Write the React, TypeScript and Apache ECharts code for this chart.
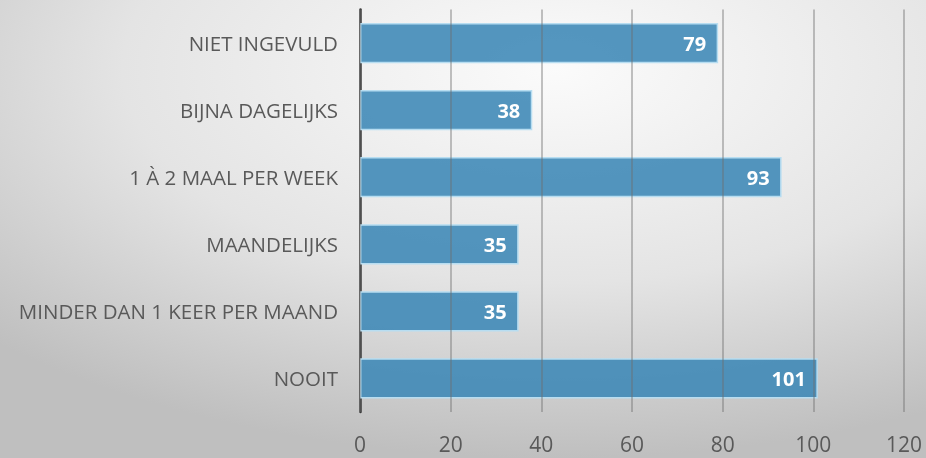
import React, { useEffect, useRef } from "react";
import * as echarts from "echarts";

const categories = [
  "NIET INGEVULD",
  "BIJNA DAGELIJKS",
  "1 À 2 MAAL PER WEEK",
  "MAANDELIJKS",
  "MINDER DAN 1 KEER PER MAAND",
  "NOOIT",
];
const values = [79, 38, 93, 35, 35, 101];
const xMin = 0;
const xMax = 120;
const xInterval = 20;

export default function App() {
  const ref = useRef<HTMLDivElement>(null);
  useEffect(() => {
    if (!ref.current) return;
    const chart = echarts.init(ref.current, null, { renderer: "svg" });
    chart.setOption({
      animation: false,
      backgroundColor: new echarts.graphic.RadialGradient(0.6, 0.15, 0.85, [
        { offset: 0, color: "#fbfbfb" },
        { offset: 0.55, color: "#e4e4e4" },
        { offset: 1, color: "#bfbfbf" },
      ]),
      grid: { left: 360, right: 22, top: 9.5, bottom: 46, containLabel: false },
      xAxis: {
        type: "value",
        min: xMin,
        max: xMax,
        interval: xInterval,
        axisLine: { show: false },
        axisTick: { show: false },
        axisLabel: {
          color: "#595959",
          fontSize: 21,
          fontFamily: "Open Sans",
          margin: 21,
        },
        splitLine: { show: true, lineStyle: { color: "rgba(110,110,110,0.55)", width: 1.5 } },
        z: 3,
      },
      yAxis: {
        type: "category",
        data: categories,
        inverse: true,
        axisLine: { show: true, lineStyle: { color: "#3a3a3a", width: 2.5 } },
        axisTick: { show: false },
        axisLabel: {
          color: "#595959",
          fontSize: 20.5,
          fontFamily: "Open Sans",
          margin: 22,
        },
        splitLine: { show: false },
      },
      series: [
        {
          type: "bar",
          data: values,
          barWidth: "60%",
          itemStyle: {
            color: "rgba(60,135,182,0.88)",
            borderColor: "#b7ddf1",
            borderWidth: 1.5,
          },
          label: {
            show: true,
            position: "insideRight",
            distance: 12,
            color: "#ffffff",
            fontSize: 20,
            fontWeight: "bold",
            fontFamily: "Open Sans",
          },
        },
      ],
    });
    return () => chart.dispose();
  }, []);
  return <div ref={ref} style={{ width: 926, height: 458, position: "fixed", left: 0, top: 0 }} />;
}
